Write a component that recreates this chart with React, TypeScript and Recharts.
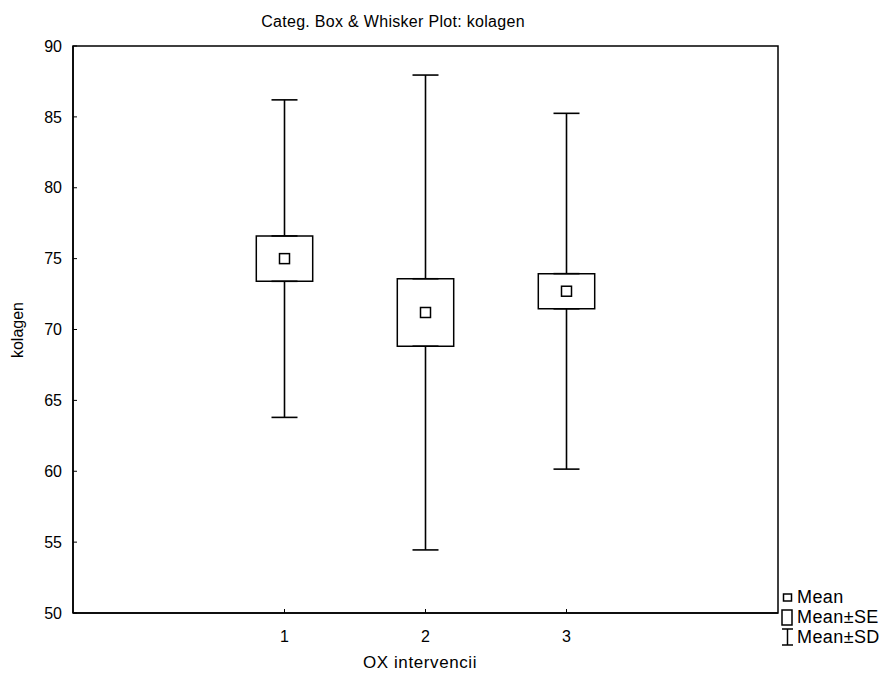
import React from "react";
import {
  ComposedChart,
  Scatter,
  ErrorBar,
  XAxis,
  YAxis,
  ReferenceArea,
} from "recharts";

const categories = [1, 2, 3];
const means = [75.0, 71.2, 72.7];
const se = [1.6, 2.38, 1.24];
const sd = [11.2, 16.75, 12.55];
const yTicks = [50, 55, 60, 65, 70, 75, 80, 85, 90];

const title = "Categ. Box & Whisker Plot: kolagen";
const xLabel = "OX intervencii";
const yLabel = "kolagen";

const meanPts = categories.map((c, i) => ({ x: c, y: means[i] }));
const upperWhisker = categories.map((c, i) => ({
  x: c,
  y: means[i] + se[i],
  err: [0, sd[i] - se[i]],
}));
const lowerWhisker = categories.map((c, i) => ({
  x: c,
  y: means[i] - se[i],
  err: [sd[i] - se[i], 0],
}));

const BOX_HALF = 0.2;
const FONT = "'Liberation Sans', Arial, sans-serif";

const MeanShape = (props: any) => {
  const { cx, cy } = props;
  return (
    <rect x={cx - 5} y={cy - 5} width={10} height={10} fill="#fff" stroke="#000" strokeWidth={1.5} />
  );
};
const Empty = () => <g />;

export default function App() {
  return (
    <div style={{ position: "relative", width: 880, height: 669, fontFamily: FONT, color: "#000" }}>
      <ComposedChart
        width={880}
        height={669}
        margin={{ top: 38, right: 110, bottom: 0, left: 0 }}
      >
        <XAxis
          dataKey="x"
          type="number"
          domain={[-0.5, 4.5]}
          ticks={categories}
          allowDataOverflow
          height={64}
          tickSize={-4}
          tickMargin={22}
          tickLine={{ stroke: "#000", strokeWidth: 1 }}
          axisLine={{ stroke: "#000", strokeWidth: 1.5 }}
          tick={{ fill: "#000", fontSize: 16, fontFamily: FONT }}
        />
        <YAxis
          dataKey="y"
          type="number"
          domain={[50, 90]}
          ticks={yTicks}
          allowDataOverflow
          width={65}
          tickSize={-4}
          tickMargin={15}
          tickLine={{ stroke: "#000", strokeWidth: 1 }}
          axisLine={{ stroke: "#000", strokeWidth: 1.5 }}
          tick={{ fill: "#000", fontSize: 16, fontFamily: FONT }}
        />
        <ReferenceArea
          x1={-0.5}
          x2={4.5}
          y1={50}
          y2={90}
          fill="none"
          fillOpacity={0}
          stroke="#000"
          strokeWidth={1.5}
        />
        {categories.map((c, i) => (
          <ReferenceArea
            key={c}
            x1={c - BOX_HALF}
            x2={c + BOX_HALF}
            y1={means[i] - se[i]}
            y2={means[i] + se[i]}
            fill="#fff"
            fillOpacity={1}
            stroke="#000"
            strokeWidth={1.5}
          />
        ))}
        <Scatter data={upperWhisker} shape={<Empty />} isAnimationActive={false}>
          <ErrorBar dataKey="err" direction="y" width={13} stroke="#000" strokeWidth={1.6} />
        </Scatter>
        <Scatter data={lowerWhisker} shape={<Empty />} isAnimationActive={false}>
          <ErrorBar dataKey="err" direction="y" width={13} stroke="#000" strokeWidth={1.6} />
        </Scatter>
        <Scatter data={meanPts} shape={<MeanShape />} isAnimationActive={false} />
      </ComposedChart>

      <div
        style={{
          position: "absolute",
          left: 0,
          width: 770,
          top: 5,
          textAlign: "center",
          fontSize: 16,
          letterSpacing: "0.3px",
          lineHeight: "18px",
        }}
      >
        {title}
      </div>
      <div
        style={{
          position: "absolute",
          left: 0,
          width: 824,
          top: 645,
          textAlign: "center",
          fontSize: 17,
          letterSpacing: "0.6px",
          lineHeight: "20px",
        }}
      >
        {xLabel}
      </div>
      <div
        style={{
          position: "absolute",
          left: 10 - 50,
          top: 322 - 10,
          width: 100,
          height: 20,
          lineHeight: "20px",
          textAlign: "center",
          fontSize: 16,
          transform: "rotate(-90deg)",
        }}
      >
        {yLabel}
      </div>
      <div style={{ position: "absolute", left: 772, top: 579, fontSize: 18, lineHeight: "20px", letterSpacing: "0.4px" }}>
        <div style={{ display: "flex", alignItems: "center", height: 20 }}>
          <svg width={17} height={20}>
            <rect x={3.5} y={7} width={8} height={7} fill="#fff" stroke="#000" strokeWidth={1.5} />
          </svg>
          <span>Mean</span>
        </div>
        <div style={{ display: "flex", alignItems: "center", height: 20 }}>
          <svg width={17} height={20}>
            <rect x={2} y={3} width={10} height={15} fill="#fff" stroke="#000" strokeWidth={1.5} />
          </svg>
          <span>Mean±SE</span>
        </div>
        <div style={{ display: "flex", alignItems: "center", height: 20 }}>
          <svg width={17} height={20}>
            <line x1={2} y1={2} x2={13} y2={2} stroke="#000" strokeWidth={1.5} />
            <line x1={7.5} y1={2} x2={7.5} y2={18} stroke="#000" strokeWidth={1.5} />
            <line x1={2} y1={18} x2={13} y2={18} stroke="#000" strokeWidth={1.5} />
          </svg>
          <span>Mean±SD</span>
        </div>
      </div>
    </div>
  );
}
